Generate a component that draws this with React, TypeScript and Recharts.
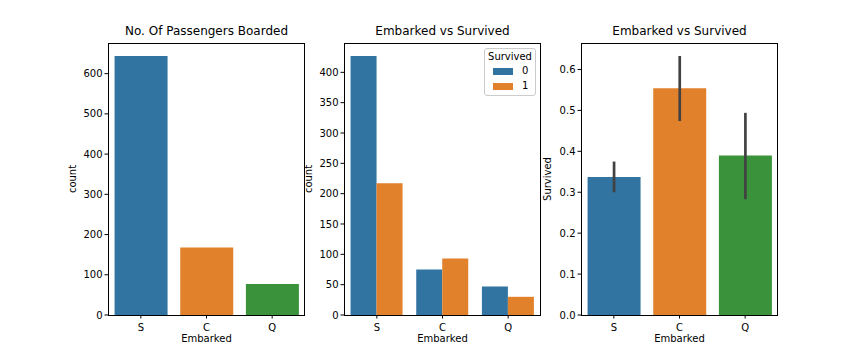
import { BarChart, Bar, XAxis, YAxis, Cell, ErrorBar } from 'recharts'

const ports = ['S', 'C', 'Q']
const boarded = [644, 168, 77]
const died = [427, 75, 47]
const survived = [217, 93, 30]
const survivalRate = [0.337, 0.554, 0.39]
const ciLow = [0.3, 0.474, 0.283]
const ciHigh = [0.375, 0.633, 0.494]

const countTicks1 = [0, 100, 200, 300, 400, 500, 600]
const countTicks2 = [0, 50, 100, 150, 200, 250, 300, 350, 400]
const rateTicks = [0, 0.1, 0.2, 0.3, 0.4, 0.5, 0.6]
const hueLabels = ['0', '1']

const portColors = ['#3274a1', '#e1812c', '#3a923a']
const font = 'DejaVu Sans, sans-serif'

const boardedData = ports.map((p, i) => ({ port: p, count: boarded[i] }))
const hueData = ports.map((p, i) => ({ port: p, died: died[i], survived: survived[i] }))
const rateData = ports.map((p, i) => ({
  port: p,
  rate: survivalRate[i],
  ci: [survivalRate[i] - ciLow[i], ciHigh[i] - survivalRate[i]],
}))

const tick = { fill: '#000', fontSize: 10, fontFamily: font }
const xTick = { ...tick, dy: 3 }

// plot boxes as [left, right]; all share top 43 / bottom 315
const TOP = 43
const BOTTOM = 315
const panels = [
  { left: 108, right: 305, title: 'No. Of Passengers Boarded', ylabel: 'count', ylabelX: 73 },
  { left: 344, right: 541, title: 'Embarked vs Survived', ylabel: 'count', ylabelX: 309 },
  { left: 581, right: 778, title: 'Embarked vs Survived', ylabel: 'Survived', ylabelX: 548 },
]

const HueLegend = () => (
  <div
    style={{
      position: 'absolute',
      left: 484,
      top: 48,
      width: 52,
      height: 48,
      boxSizing: 'border-box',
      border: '1px solid #cccccc',
      borderRadius: 3,
      background: 'rgba(255,255,255,0.8)',
      fontFamily: font,
      fontSize: 10,
      lineHeight: '12px',
      color: '#000',
    }}
  >
    <div style={{ position: 'absolute', top: 2, left: 0, width: '100%', textAlign: 'center' }}>Survived</div>
    {hueLabels.map((lab, i) => (
      <div key={lab}>
        <div
          style={{
            position: 'absolute',
            left: 8,
            top: 19 + i * 14.5,
            width: 20,
            height: 7,
            background: portColors[i],
          }}
        />
        <div style={{ position: 'absolute', left: 37, top: 16 + i * 14.5 }}>{lab}</div>
      </div>
    ))}
  </div>
)

const charts = [
  { left: 40, width: 280, yw: 68 },
  { left: 290, width: 264, yw: 54 },
  { left: 530, width: 260, yw: 51 },
]

export default function App() {
  const margin = (k: number) => ({
    top: TOP,
    bottom: 360 - BOTTOM - 20,
    left: 0,
    right: charts[k].left + charts[k].width - panels[k].right,
  })
  const [c1, c2, c3] = charts

  return (
    <div style={{ position: 'absolute', left: 0, top: 0, width: 864, height: 360, background: '#fff', fontFamily: font }}>
      <div style={{ position: 'absolute', left: c1.left, top: 0 }}>
        <BarChart width={c1.width} height={360} data={boardedData} margin={margin(0)} barCategoryGap="10%">
          <XAxis dataKey="port" tick={xTick} tickSize={3.5} tickLine={{ stroke: '#000' }} axisLine={false} height={20} />
          <YAxis
            width={c1.yw}
            domain={[0, 676.2]}
            ticks={countTicks1}
            tick={tick}
            tickSize={3.5}
            tickLine={{ stroke: '#000' }}
            axisLine={false}
          />
          <Bar dataKey="count" isAnimationActive={false}>
            {boardedData.map((d, i) => (
              <Cell key={d.port} fill={portColors[i]} />
            ))}
          </Bar>
        </BarChart>
      </div>

      <div style={{ position: 'absolute', left: c2.left, top: 0 }}>
        <BarChart width={c2.width} height={360} data={hueData} margin={margin(1)} barCategoryGap="10%" barGap={0}>
          <XAxis dataKey="port" tick={xTick} tickSize={3.5} tickLine={{ stroke: '#000' }} axisLine={false} height={20} />
          <YAxis
            width={c2.yw}
            domain={[0, 448.35]}
            ticks={countTicks2}
            tick={tick}
            tickSize={3.5}
            tickLine={{ stroke: '#000' }}
            axisLine={false}
          />
          <Bar dataKey="died" name="0" fill={portColors[0]} isAnimationActive={false} />
          <Bar dataKey="survived" name="1" fill={portColors[1]} isAnimationActive={false} />
        </BarChart>
      </div>

      <div style={{ position: 'absolute', left: c3.left, top: 0 }}>
        <BarChart width={c3.width} height={360} data={rateData} margin={margin(2)} barCategoryGap="10%">
          <XAxis dataKey="port" tick={xTick} tickSize={3.5} tickLine={{ stroke: '#000' }} axisLine={false} height={20} />
          <YAxis
            width={c3.yw}
            domain={[0, 0.6647]}
            ticks={rateTicks}
            tickFormatter={(v: number) => v.toFixed(1)}
            tick={tick}
            tickSize={3.5}
            tickLine={{ stroke: '#000' }}
            axisLine={false}
          />
          <Bar dataKey="rate" isAnimationActive={false}>
            {rateData.map((d, i) => (
              <Cell key={d.port} fill={portColors[i]} />
            ))}
            <ErrorBar dataKey="ci" width={0} stroke="#424242" strokeWidth={2.7} direction="y" />
          </Bar>
        </BarChart>
      </div>

      <HueLegend />

      {panels.map((p, i) => (
        <div key={i}>
          <div
            style={{
              position: 'absolute',
              left: p.left,
              top: TOP,
              width: p.right - p.left,
              height: BOTTOM - TOP + 1,
              border: '1px solid #000',
              boxSizing: 'border-box',
              pointerEvents: 'none',
            }}
          />
          <div
            style={{
              position: 'absolute',
              left: p.left,
              width: p.right - p.left,
              top: 24,
              textAlign: 'center',
              fontSize: 12,
              lineHeight: '14px',
              color: '#000',
            }}
          >
            {p.title}
          </div>
          <div
            style={{
              position: 'absolute',
              left: p.left,
              width: p.right - p.left,
              top: 333,
              textAlign: 'center',
              fontSize: 10,
              lineHeight: '12px',
              color: '#000',
            }}
          >
            Embarked
          </div>
          <div
            style={{
              position: 'absolute',
              left: p.ylabelX - 50,
              top: (TOP + BOTTOM) / 2 - 6,
              width: 100,
              textAlign: 'center',
              fontSize: 10,
              lineHeight: '12px',
              color: '#000',
              transform: 'rotate(-90deg)',
            }}
          >
            {p.ylabel}
          </div>
        </div>
      ))}
    </div>
  )
}
